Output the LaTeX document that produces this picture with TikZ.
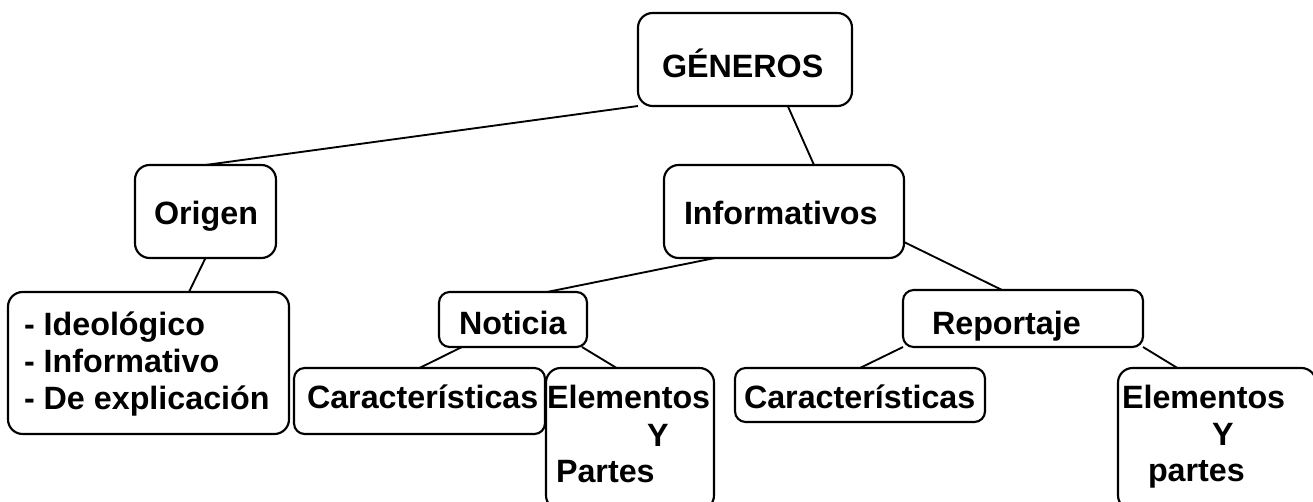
\documentclass[tikz,border=0pt]{standalone}
\usepackage{fontspec}
\setmainfont{Liberation Sans}
\usetikzlibrary{calc}
\tikzset{
  box/.style={draw=black, line width=1.6pt, rounded corners=11pt, inner sep=0pt, outer sep=0pt, fill=white},
  sbox/.style={box, rounded corners=8pt},
  lbl/.style={anchor=base west, inner sep=0pt, outer sep=0pt, font=\fontsize{24.2pt}{29pt}\selectfont\bfseries},
  conn/.style={draw=black, line width=1.4pt}
}
\begin{document}
\begin{tikzpicture}[x=0.75pt, y=-0.75pt]
\useasboundingbox (0,0) rectangle (1313,502);
\fill[white] (0,0) rectangle (1313,502);
% boxes
\node[box, minimum width=160.5pt, minimum height=69.75pt] (gen) at (745,59.5) {};
\node[box, minimum width=105.75pt, minimum height=69.75pt] (orig) at (205.5,211.5) {};
\node[box, minimum width=210.75pt, minimum height=106.5pt] (ideo) at (148.5,363) {};
\node[box, minimum width=180pt, minimum height=69.75pt] (inf) at (784,211.5) {};
\node[sbox, minimum width=111pt, minimum height=41.25pt] (not) at (513,319.5) {};
\node[sbox, minimum width=180pt, minimum height=42.75pt] (rep) at (1023,318.5) {};
\node[sbox, minimum width=188.25pt, minimum height=49.5pt] (car1) at (419.5,401) {};
\node[box, minimum width=126pt, minimum height=106.5pt] (ele1) at (630,439) {};
\node[sbox, minimum width=187.5pt, minimum height=40.5pt] (car2) at (860,395) {};
\node[box, minimum width=148.5pt, minimum height=106.5pt] (ele2) at (1217,439) {};
% connectors
\draw[conn] (gen.south west) -- (orig.north);
\draw[conn] ($(gen.south west)!0.7!(gen.south east)$) -- ($(inf.north west)!0.625!(inf.north east)$);
\draw[conn] (orig.south) -- ($(ideo.north west)!0.644!(ideo.north east)$);
\draw[conn] ($(inf.south west)!0.2125!(inf.south east)$) -- ($(not.north west)!0.73!(not.north east)$);
\draw[conn] ($(inf.south east)+(0,-16)$) -- ($(rep.north west)!0.4125!(rep.north east)$);
\draw[conn] ($(not.south west)!0.155!(not.south east)$) -- (car1.north);
\draw[conn] ($(not.south west)!0.966!(not.south east)$) -- ($(ele1.north west)!0.42!(ele1.north east)$);
\draw[conn] (rep.south west) -- (car2.north);
\draw[conn] (rep.south east) -- ($(ele2.north west)!0.30!(ele2.north east)$);
% labels
\node[lbl] (tgen) at (662,78) {GÉNEROS};
\node[lbl] (torig) at (154,225) {Origen};
\node[lbl] (tideo1) at (24,335) {- Ideológico};
\node[lbl] (tideo2) at (24,372) {- Informativo};
\node[lbl] (tideo3) at (24,409) {- De explicación};
\node[lbl] (tinf) at (684,225) {Informativos};
\node[lbl] (tnot) at (459,334) {Noticia};
\node[lbl] (trep) at (932,334) {Reportaje};
\node[lbl] (tcar1) at (307,408) {Características};
\node[lbl] (tele1a) at (547,408) {Elementos};
\node[lbl] (tele1b) at (647,446) {Y};
\node[lbl] (tele1c) at (556,482) {Partes};
\node[lbl] (tcar2) at (744,408) {Características};
\node[lbl] (tele2a) at (1122,408) {Elementos};
\node[lbl] (tele2b) at (1212,445) {Y};
\node[lbl] (tele2c) at (1148,481) {partes};
\end{tikzpicture}
\end{document}
